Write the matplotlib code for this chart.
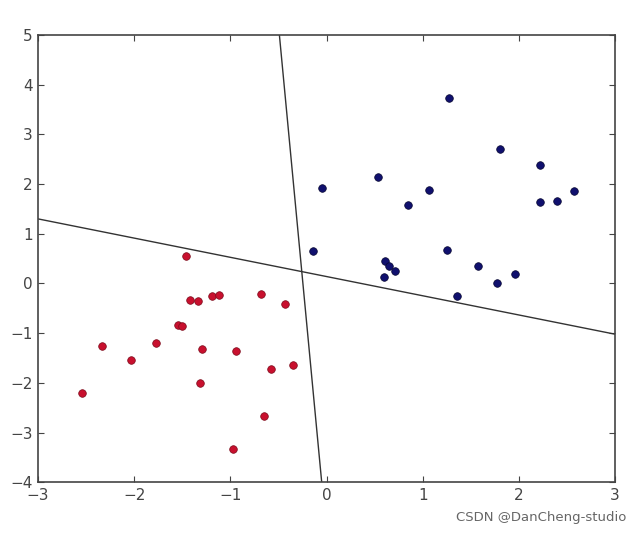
import matplotlib
matplotlib.use("Agg")
import matplotlib.pyplot as plt

# Red class points
red_x = [-1.46, -1.42, -1.34, -1.19, -1.12, -0.68, -0.43, -1.54, -1.50, -2.33,
         -1.77, -2.03, -1.29, -0.94, -0.58, -0.35, -1.32, -2.54, -0.65, -0.97]
red_y = [0.56, -0.33, -0.35, -0.25, -0.24, -0.21, -0.41, -0.84, -0.86, -1.26,
         -1.20, -1.53, -1.32, -1.35, -1.73, -1.64, -2.01, -2.21, -2.66, -3.32]

# Blue class points
blue_x = [1.27, 1.80, 2.22, 0.54, -0.05, 1.07, 2.57, 0.85, 2.22, 2.40,
          -0.14, 1.25, 0.61, 0.65, 0.71, 1.57, 0.60, 1.96, 1.77, 1.36]
blue_y = [3.74, 2.70, 2.39, 2.15, 1.93, 1.88, 1.86, 1.57, 1.64, 1.66,
          0.65, 0.67, 0.45, 0.36, 0.25, 0.35, 0.13, 0.19, 0.00, -0.25]

# Separating lines (endpoints read at the axis limits)
line1_x = [-3.0, 3.0]
line1_y = [1.30, -1.02]
line2_x = [-0.49, -0.05]
line2_y = [5.0, -4.0]

x_ticks = [-3, -2, -1, 0, 1, 2, 3]
y_ticks = [-4, -3, -2, -1, 0, 1, 2, 3, 4, 5]

fig = plt.figure(figsize=(6.42, 5.35), dpi=100, facecolor="white")
ax = fig.add_axes([0.0592, 0.0985, 0.8988, 0.8361])

ax.plot(line1_x, line1_y, color="#333333", linewidth=1.0)
ax.plot(line2_x, line2_y, color="#333333", linewidth=1.0)
ax.scatter(red_x, red_y, s=30, c="#c8102e", edgecolors="#7a0a1a", linewidths=0.5, zorder=3)
ax.scatter(blue_x, blue_y, s=30, c="#10106e", edgecolors="#05052e", linewidths=0.5, zorder=3)

ax.set_xlim(-3, 3)
ax.set_ylim(-4, 5)
ax.set_xticks(x_ticks)
ax.set_yticks(y_ticks)
ax.set_xticklabels([("\u2212%d" % -v) if v < 0 else str(v) for v in x_ticks])
ax.set_yticklabels([("\u2212%d" % -v) if v < 0 else str(v) for v in y_ticks])
ax.tick_params(direction="in", top=True, right=True, length=4, width=0.8,
               labelsize=11, colors="#444444", pad=4)
for sp in ax.spines.values():
    sp.set_color("#444444")
    sp.set_linewidth(1.2)

fig.text(0.976, 0.033, "CSDN @DanCheng-studio", ha="right", va="center",
         fontsize=9.5, color="#666666")

fig.savefig("out.png", dpi=100, facecolor="white")
